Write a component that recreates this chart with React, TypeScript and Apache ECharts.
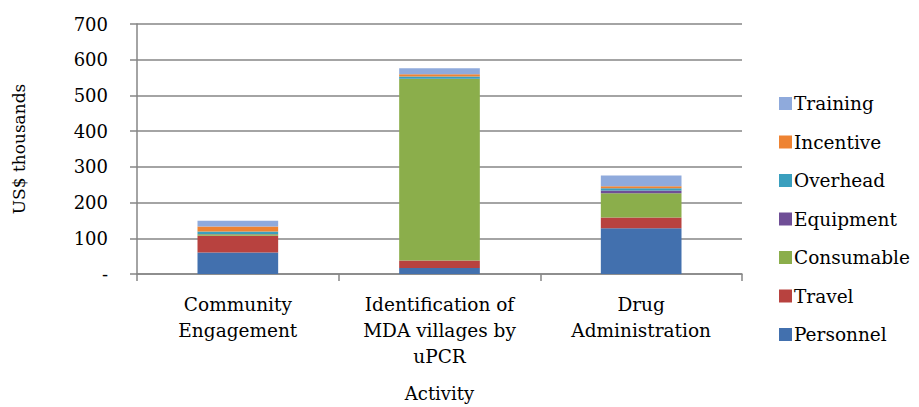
import React, { useEffect, useRef } from "react";
import * as echarts from "echarts";

const categories = [
  "Community\nEngagement",
  "Identification of\nMDA villages by\nuPCR",
  "Drug\nAdministration",
];
const personnel = [60, 17, 128];
const travel = [47, 21, 30];
const consumable = [4, 508, 68];
const equipment = [1, 1, 8];
const overhead = [7, 6, 6];
const incentive = [14, 6, 6];
const training = [16, 17, 30];

const seriesDefs = [
  { name: "Personnel", data: personnel, color: "#4270AE" },
  { name: "Travel", data: travel, color: "#B8423F" },
  { name: "Consumable", data: consumable, color: "#8BAE4B" },
  { name: "Equipment", data: equipment, color: "#6F4E96" },
  { name: "Overhead", data: overhead, color: "#3A9FBE" },
  { name: "Incentive", data: incentive, color: "#EE8332" },
  { name: "Training", data: training, color: "#8FAADC" },
];

const FONT = "DejaVu Serif";

export default function App() {
  const ref = useRef<HTMLDivElement>(null);
  useEffect(() => {
    if (!ref.current) return;
    const chart = echarts.init(ref.current, undefined, { renderer: "svg" });
    chart.setOption({
      animation: false,
      textStyle: { fontFamily: FONT, color: "#000" },
      grid: { left: 137, right: 177, top: 24, bottom: 130, containLabel: false },
      legend: {
        orient: "vertical",
        left: 774,
        top: 89,
        itemWidth: 13,
        itemHeight: 13,
        itemGap: 19.5,
        icon: "rect",
        data: [...seriesDefs].reverse().map((s) => s.name),
        textStyle: { fontFamily: FONT, fontSize: 18.5, color: "#000", padding: [0, 0, 0, -3] },
      },
      xAxis: {
        type: "category",
        data: categories,
        name: "Activity",
        nameLocation: "middle",
        nameGap: 110,
        nameTextStyle: { fontFamily: FONT, fontSize: 18, color: "#000" },
        axisLine: { lineStyle: { color: "#868686", width: 1.5 } },
        axisTick: { show: true, length: 7, lineStyle: { color: "#868686", width: 1.5 } },
        axisLabel: {
          fontFamily: FONT,
          fontSize: 18.5,
          color: "#000",
          lineHeight: 26,
          margin: 17,
          interval: 0,
        },
      },
      yAxis: {
        type: "value",
        min: 0,
        max: 700,
        interval: 100,
        name: "US$ thousands",
        nameLocation: "middle",
        nameRotate: 90,
        nameGap: 110,
        nameTextStyle: { fontFamily: FONT, fontSize: 17, color: "#000" },
        axisLine: { show: true, lineStyle: { color: "#868686", width: 1.5 } },
        axisTick: { show: true, length: 7, lineStyle: { color: "#868686", width: 1.5 } },
        splitLine: { lineStyle: { color: "#868686", width: 1.5 } },
        axisLabel: {
          fontFamily: FONT,
          fontSize: 18,
          color: "#000",
          margin: 29,
          formatter: (v: number) => (v === 0 ? "-" : String(v)),
        },
      },
      series: seriesDefs.map((s) => ({
        name: s.name,
        type: "bar",
        stack: "total",
        barWidth: "40%",
        data: s.data,
        itemStyle: { color: s.color },
      })),
    });
    return () => chart.dispose();
  }, []);
  return (
    <div
      ref={ref}
      style={{ position: "fixed", left: 0, top: 0, width: 919, height: 407, background: "#fff" }}
    />
  );
}
